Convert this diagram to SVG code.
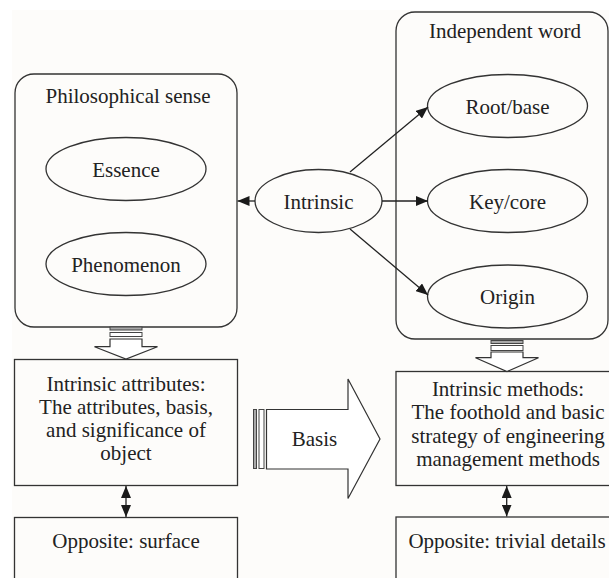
<svg xmlns="http://www.w3.org/2000/svg" width="609" height="578" viewBox="0 0 609 578">
<defs>
<marker id="ah" viewBox="0 0 12 10" refX="12" refY="5" markerWidth="12" markerHeight="10" markerUnits="userSpaceOnUse" orient="auto-start-reverse">
<path d="M0,0 L12,5 L0,10 Z" fill="#1a1a1a"/>
</marker>
</defs>
<style>
text{font-size:21px;fill:#222;text-anchor:middle}
.box{fill:none;stroke:#333;stroke-width:1.3}
.ell{fill:none;stroke:#333;stroke-width:1.3}
.conn{fill:none;stroke:#222;stroke-width:1.3}
.stripe{fill:#a8a8a8;stroke:#444;stroke-width:1}
.stripe2{fill:#fff;stroke:#444;stroke-width:1}
.blk{fill:#fff;stroke:#333;stroke-width:1.2}
</style>
<rect x="0" y="0" width="609" height="578" fill="#fff"/>
<rect x="12" y="10" width="597" height="568" fill="#fdfcfa"/>
<g font-family="Liberation Serif, serif">
<g id="philosophical-sense">
<rect class="box" x="15" y="74" width="222" height="253" rx="19"/>
<text x="128" y="103">Philosophical sense</text>
</g>
<g id="essence">
<ellipse class="ell" cx="126" cy="169" rx="80" ry="31.5"/>
<text x="126" y="176.5">Essence</text>
</g>
<g id="phenomenon">
<ellipse class="ell" cx="126" cy="264" rx="80" ry="31.5"/>
<text x="126" y="271.5">Phenomenon</text>
</g>
<g id="intrinsic">
<ellipse class="ell" cx="318.5" cy="201" rx="63.5" ry="31.5"/>
<text x="318.5" y="208.5">Intrinsic</text>
</g>
<g id="independent-word">
<rect class="box" x="396" y="12" width="212" height="327" rx="19"/>
<text x="505" y="38">Independent word</text>
</g>
<g id="root-base">
<ellipse class="ell" cx="507.5" cy="106" rx="80" ry="31.5"/>
<text x="507.5" y="113.5">Root/base</text>
</g>
<g id="key-core">
<ellipse class="ell" cx="507.5" cy="201" rx="80" ry="31.5"/>
<text x="507.5" y="208.5">Key/core</text>
</g>
<g id="origin">
<ellipse class="ell" cx="507.5" cy="296.5" rx="80" ry="31.5"/>
<text x="507.5" y="304">Origin</text>
</g>
<g id="intrinsic-attributes">
<rect class="box" x="14.5" y="359.5" width="223" height="126"/>
<text x="126" y="391">Intrinsic attributes:</text>
<text x="126" y="414">The attributes, basis,</text>
<text x="126" y="437">and significance of</text>
<text x="126" y="460">object</text>
</g>
<g id="intrinsic-methods">
<rect class="box" x="396" y="371.5" width="230" height="114"/>
<text x="508" y="395.5">Intrinsic methods:</text>
<text x="508" y="419">The foothold and basic</text>
<text x="508" y="442.5">strategy of engineering</text>
<text x="508" y="466">management methods</text>
</g>
<g id="opposite-surface">
<rect class="box" x="14.5" y="517.5" width="223" height="80"/>
<text x="126" y="548">Opposite: surface</text>
</g>
<g id="opposite-trivial">
<rect class="box" x="396" y="517" width="230" height="80"/>
<text x="507" y="548">Opposite: trivial details</text>
</g>
<g id="basis-arrow">
<rect class="stripe" x="253.5" y="409.5" width="3" height="59"/>
<rect class="stripe2" x="259" y="409.5" width="5" height="59"/>
<path class="blk" d="M266.5,409.5 H348 V379 L380,439 L348,498.5 V469 H266.5 Z"/>
<text x="314.5" y="446">Basis</text>
</g>
</g>
<g id="connectors">
<line class="conn" x1="255" y1="201" x2="237.5" y2="201" marker-end="url(#ah)"/>
<line class="conn" x1="350" y1="172" x2="428" y2="107" marker-end="url(#ah)"/>
<line class="conn" x1="382" y1="201" x2="428" y2="201" marker-end="url(#ah)"/>
<line class="conn" x1="350" y1="229" x2="428" y2="295" marker-end="url(#ah)"/>
<line class="conn" x1="126" y1="486" x2="126" y2="517" marker-start="url(#ah)" marker-end="url(#ah)"/>
<line class="conn" x1="506.7" y1="486" x2="506.7" y2="516.5" marker-start="url(#ah)" marker-end="url(#ah)"/>
<g id="down-arrow-left">
<rect class="stripe" x="110" y="327" width="32" height="3"/>
<rect class="stripe2" x="110" y="332.5" width="32" height="4"/>
<path class="blk" d="M110,339 H142 V346.7 H157.5 L126,359 L94.5,346.7 H110 Z"/>
</g>
<g id="down-arrow-right">
<rect class="stripe" x="491" y="340.5" width="32" height="3"/>
<rect class="stripe2" x="491" y="345.5" width="32" height="5"/>
<path class="blk" d="M491,352 H523 V357.7 H538.5 L507,371.5 L475.5,357.7 H491 Z"/>
</g>
</g>
</svg>
